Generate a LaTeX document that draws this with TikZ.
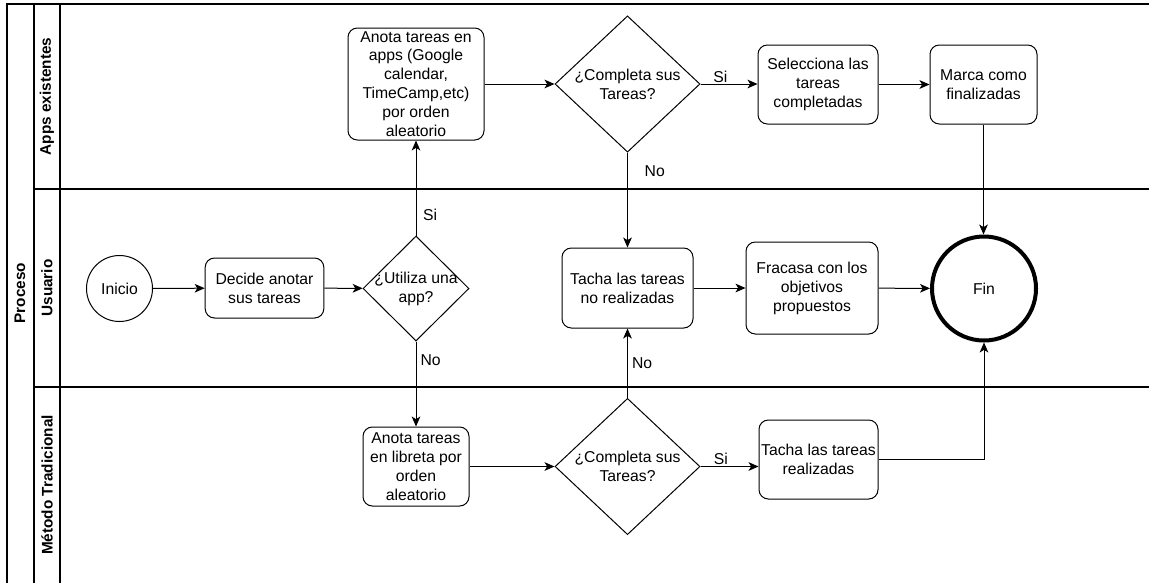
\documentclass[tikz,border=0pt]{standalone}
\usepackage{fontspec}
\setmainfont{Liberation Sans}
\usetikzlibrary{shapes.geometric,arrows.meta}

\tikzset{
  every node/.style={font=\fontsize{11.8}{14.2}\selectfont},
  task/.style={draw, rounded corners=7pt, align=center, inner sep=1pt, line width=.75pt},
  decision/.style={draw, diamond, align=center, inner sep=0pt, line width=.75pt},
  event/.style={draw, circle, inner sep=0pt, line width=.75pt},
  lane/.style={font=\bfseries\fontsize{11.5}{14}\selectfont, rotate=90},
  flow/.style={->, line width=.75pt},
  lbl/.style={inner sep=1pt}
}

\begin{document}
\begin{tikzpicture}[x=0.75pt, y=-0.75pt, >={Stealth[length=7.5pt,width=6.5pt,inset=2pt]}]
  \useasboundingbox (0,0) rectangle (1149,583);
  \draw[line width=.9pt] (7,583) -- (7,4) -- (1149,4);
  \foreach \x in {34,60} {
    \draw[line width=.9pt] (\x,4) -- (\x,583);
  }
  \foreach \y in {189,387} {
    \draw[line width=.9pt] (34,\y) -- (1149,\y);
  }
  \node[lane] (pool) at (20,293) {Proceso};
  \node[lane] (laneApps) at (47,96.5) {Apps existentes};
  \node[lane] (laneUsuario) at (47,288) {Usuario};
  \node[lane] (laneMetodo) at (47,485) {Método Tradicional};

  \node[event, minimum size=49.5pt] (inicio) at (119.5,288.5) {Inicio};
  \node[task, minimum width=89pt, minimum height=45pt] (decide) at (264.5,288) {Decide anotar\\sus tareas};
  \node[decision, minimum width=79.5pt, minimum height=78.75pt,
        label={[align=center]center:¿Utiliza una\\app?}] (utiliza) at (416,288.5) {};
  \node[task, minimum width=102pt, minimum height=84pt, inner ysep=0pt] (anotaApp) at (416,84) {Anota tareas en\\apps (Google\\calendar,\\TimeCamp,etc)\\por orden\\aleatorio};
  \node[decision, minimum width=108.75pt, minimum height=100.5pt] (completaApp) at (627.5,84) {¿Completa sus\\Tareas?};
  \node[task, minimum width=90pt, minimum height=59.25pt] (selecciona) at (818,84.5) {Selecciona las\\tareas\\completadas};
  \node[task, minimum width=80.25pt, minimum height=59.25pt] (marca) at (983.5,84.5) {Marca como\\finalizadas};
  \node[task, minimum width=98.25pt, minimum height=60pt] (tachaNo) at (627.5,288) {Tacha las tareas\\no realizadas};
  \node[task, minimum width=99pt, minimum height=69pt] (fracasa) at (812,288) {Fracasa con los\\objetivos\\propuestos};
  \node[event, line width=3pt, minimum size=78pt] (fin) at (984,288.5) {Fin};
  \node[task, minimum width=79.5pt, minimum height=59.25pt] (libreta) at (416,466.5) {Anota tareas\\en libreta por\\orden\\aleatorio};
  \node[decision, minimum width=108.75pt, minimum height=100pt] (completaLib) at (627.5,466.5) {¿Completa sus\\Tareas?};
  \node[task, minimum width=89.25pt, minimum height=59.25pt, inner xsep=0pt] (tachaSi) at (818.5,459.5) {Tacha las tareas\\realizadas};

  \draw[flow] (inicio) -- (decide);
  \draw[flow] (decide) -- (utiliza);
  \draw[flow] (utiliza) -- node[lbl, pos=.22, anchor=west, xshift=4pt] (siUtiliza) {Si} (anotaApp);
  \draw[flow] (utiliza) -- node[lbl, pos=.22, anchor=west, xshift=2pt] (noUtiliza) {No} (libreta);
  \draw[flow] (anotaApp) -- (completaApp);
  \draw[flow] (completaApp.east) -- node[lbl, pos=.35, above] (siApp) {Si} (completaApp.east -| selecciona.west);
  \draw[flow] (selecciona) -- (marca);
  \draw[flow] (marca.south) -- (marca.south |- fin.north);
  \draw[flow] (completaApp) -- node[lbl, pos=.19, anchor=west, xshift=11.5pt] (noApp) {No} (tachaNo);
  \draw[flow] (tachaNo) -- (fracasa);
  \draw[flow] (fracasa) -- (fin);
  \draw[flow] (libreta) -- (completaLib);
  \draw[flow] (completaLib.east) -- node[lbl, pos=.35, above] (siLib) {Si} (completaLib.east -| tachaSi.west);
  \draw[flow] (tachaSi.east) -| (fin.south);
  \draw[flow] (completaLib) -- node[lbl, pos=.5, anchor=west, xshift=2pt] (noLib) {No} (tachaNo);
\end{tikzpicture}
\end{document}
